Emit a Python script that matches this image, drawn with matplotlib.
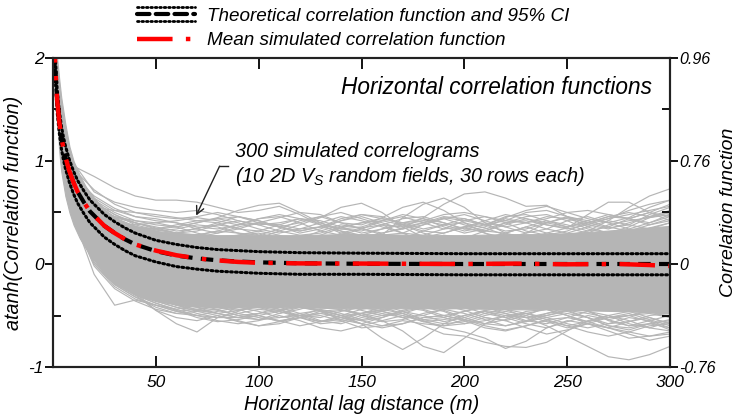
import numpy as np
import matplotlib
matplotlib.use("Agg")
import matplotlib.pyplot as plt
from matplotlib.lines import Line2D
from matplotlib.legend_handler import HandlerBase

plt.rcParams['font.family'] = ['Liberation Sans', 'DejaVu Sans']
plt.rcParams['font.style'] = 'italic'
plt.rcParams['mathtext.fontset'] = 'custom'
plt.rcParams['mathtext.it'] = 'Liberation Sans:italic'
plt.rcParams['mathtext.rm'] = 'Liberation Sans:italic'

# ---------------- data ----------------
x_core = [0.5, 1, 2, 3, 4, 6, 8, 10, 13, 16, 20, 25, 30, 40, 50, 60, 70, 80,
          100, 120, 140, 160, 180, 200, 220, 240, 260, 280, 300]
core_hi = [2.3, 2.2, 2.0, 1.8, 1.62, 1.36, 1.14, 1.0, 0.86, 0.75, 0.64, 0.53, 0.45,
           0.37, 0.32, 0.30, 0.29, 0.28, 0.28, 0.28, 0.29, 0.29, 0.28, 0.28, 0.29,
           0.29, 0.31, 0.34, 0.37]
core_lo = [2.1, 1.8, 1.45, 1.1, 0.9, 0.66, 0.5, 0.38, 0.25, 0.15, 0.04, -0.09, -0.19,
           -0.30, -0.36, -0.39, -0.41, -0.42, -0.42, -0.42, -0.43, -0.43, -0.43, -0.43,
           -0.44, -0.44, -0.45, -0.46, -0.48]

x_sim = [10, 20, 30, 40, 50, 60, 70, 80, 90, 100, 110, 120, 130, 140, 150, 160, 170,
         180, 190, 200, 210, 220, 230, 240, 250, 260, 270, 280, 290, 300]
sim_u1 = [0.95, 0.85, 0.74, 0.66, 0.62, 0.62, 0.60, 0.55, 0.50, 0.52, 0.56, 0.48, 0.38, 0.30, 0.28,
          0.22, 0.18, 0.22, 0.28, 0.25, 0.18, 0.15, 0.20, 0.25, 0.22, 0.18, 0.20, 0.28, 0.30, 0.25]
sim_u2 = [0.85, 0.60, 0.48, 0.40, 0.35, 0.30, 0.25, 0.20, 0.22, 0.25, 0.32, 0.38, 0.45, 0.55, 0.59,
          0.50, 0.36, 0.26, 0.30, 0.36, 0.30, 0.22, 0.15, 0.12, 0.18, 0.25, 0.20, 0.15, 0.12, 0.18]
sim_u3 = [0.80, 0.50, 0.42, 0.36, 0.32, 0.26, 0.20, 0.15, 0.10, 0.12, 0.18, 0.20, 0.15, 0.10, 0.18,
          0.28, 0.45, 0.58, 0.64, 0.55, 0.40, 0.30, 0.25, 0.30, 0.35, 0.30, 0.22, 0.20, 0.25, 0.30]
sim_u4 = [0.82, 0.55, 0.46, 0.42, 0.40, 0.36, 0.30, 0.26, 0.28, 0.32, 0.28, 0.20, 0.15, 0.20, 0.25,
          0.30, 0.35, 0.45, 0.58, 0.68, 0.70, 0.64, 0.56, 0.57, 0.46, 0.36, 0.30, 0.28, 0.35, 0.40]
sim_u5 = [0.75, 0.45, 0.38, 0.35, 0.34, 0.36, 0.40, 0.45, 0.52, 0.57, 0.59, 0.50, 0.40, 0.32, 0.25,
          0.20, 0.25, 0.32, 0.38, 0.40, 0.35, 0.28, 0.22, 0.18, 0.22, 0.30, 0.38, 0.42, 0.45, 0.48]
sim_u6 = [0.70, 0.40, 0.30, 0.25, 0.22, 0.18, 0.15, 0.20, 0.28, 0.30, 0.25, 0.18, 0.22, 0.30, 0.35,
          0.38, 0.30, 0.22, 0.18, 0.25, 0.32, 0.40, 0.42, 0.38, 0.35, 0.48, 0.60, 0.60, 0.50, 0.42]
sim_u7 = [0.65, 0.35, 0.28, 0.22, 0.20, 0.22, 0.28, 0.32, 0.30, 0.25, 0.20, 0.22, 0.28, 0.35, 0.40,
          0.42, 0.38, 0.30, 0.25, 0.22, 0.25, 0.30, 0.36, 0.30, 0.28, 0.32, 0.42, 0.55, 0.66, 0.73]
sim_u8 = [0.62, 0.30, 0.25, 0.22, 0.25, 0.30, 0.35, 0.38, 0.35, 0.28, 0.22, 0.25, 0.32, 0.38, 0.35,
          0.28, 0.30, 0.38, 0.45, 0.42, 0.38, 0.45, 0.52, 0.56, 0.50, 0.44, 0.40, 0.45, 0.55, 0.62]
sim_u9 = [0.72, 0.45, 0.40, 0.38, 0.40, 0.42, 0.45, 0.42, 0.38, 0.40, 0.45, 0.50, 0.48, 0.40, 0.38,
          0.45, 0.55, 0.60, 0.52, 0.40, 0.30, 0.25, 0.30, 0.40, 0.45, 0.40, 0.35, 0.38, 0.48, 0.55]
sim_u10 = [0.85, 0.55, 0.52, 0.50, 0.48, 0.45, 0.42, 0.44, 0.46, 0.42, 0.36, 0.32, 0.36, 0.44, 0.48,
           0.44, 0.40, 0.42, 0.48, 0.50, 0.46, 0.42, 0.40, 0.44, 0.50, 0.52, 0.48, 0.44, 0.50, 0.58]
sim_u11 = [0.98, 0.70, 0.60, 0.55, 0.52, 0.50, 0.52, 0.48, 0.42, 0.38, 0.40, 0.44, 0.42, 0.36, 0.30,
           0.34, 0.40, 0.44, 0.40, 0.34, 0.38, 0.46, 0.48, 0.42, 0.36, 0.40, 0.46, 0.50, 0.46, 0.50]
sim_f1 = [0.80, 0.62, 0.50, 0.42, 0.38, 0.36, 0.40, 0.44, 0.40, 0.34, 0.30, 0.34, 0.40, 0.46, 0.42,
          0.36, 0.30, 0.28, 0.34, 0.42, 0.46, 0.40, 0.32, 0.28, 0.32, 0.40, 0.46, 0.44, 0.38, 0.42]
sim_f2 = [0.75, 0.58, 0.46, 0.40, 0.34, 0.30, 0.28, 0.32, 0.38, 0.44, 0.46, 0.40, 0.32, 0.28, 0.34,
          0.42, 0.48, 0.44, 0.36, 0.30, 0.34, 0.40, 0.46, 0.48, 0.42, 0.34, 0.30, 0.36, 0.45, 0.50]
sim_f3 = [0.85, 0.66, 0.54, 0.46, 0.44, 0.40, 0.34, 0.30, 0.34, 0.40, 0.36, 0.30, 0.34, 0.42, 0.48,
          0.46, 0.38, 0.32, 0.30, 0.36, 0.40, 0.36, 0.30, 0.34, 0.42, 0.46, 0.40, 0.34, 0.40, 0.48]
sim_f4 = [0.70, 0.55, 0.44, 0.36, 0.32, 0.34, 0.38, 0.36, 0.30, 0.28, 0.34, 0.42, 0.46, 0.40, 0.34,
          0.30, 0.34, 0.40, 0.44, 0.38, 0.32, 0.30, 0.36, 0.42, 0.38, 0.32, 0.36, 0.44, 0.50, 0.46]
sim_f5 = [0.78, 0.60, 0.48, 0.38, 0.33, 0.30, 0.32, 0.38, 0.42, 0.38, 0.32, 0.28, 0.30, 0.36, 0.40,
          0.44, 0.40, 0.34, 0.38, 0.44, 0.38, 0.32, 0.34, 0.40, 0.46, 0.42, 0.36, 0.32, 0.38, 0.44]
sim_f6 = [0.72, 0.56, 0.42, 0.34, 0.30, 0.28, 0.26, 0.30, 0.36, 0.40, 0.38, 0.34, 0.36, 0.32, 0.28,
          0.34, 0.38, 0.42, 0.38, 0.32, 0.36, 0.44, 0.40, 0.34, 0.30, 0.36, 0.42, 0.38, 0.34, 0.40]
sim_h1 = [0.88, 0.64, 0.52, 0.46, 0.42, 0.40, 0.36, 0.34, 0.38, 0.44, 0.48, 0.44, 0.38, 0.34, 0.36,
          0.42, 0.46, 0.40, 0.34, 0.36, 0.42, 0.48, 0.44, 0.38, 0.34, 0.38, 0.44, 0.48, 0.52, 0.56]
sim_h2 = [0.76, 0.56, 0.45, 0.40, 0.36, 0.32, 0.34, 0.40, 0.46, 0.42, 0.36, 0.32, 0.36, 0.42, 0.46,
          0.40, 0.34, 0.38, 0.44, 0.48, 0.42, 0.36, 0.40, 0.46, 0.44, 0.38, 0.34, 0.40, 0.46, 0.52]
sim_h3 = [0.92, 0.72, 0.58, 0.50, 0.46, 0.44, 0.46, 0.50, 0.46, 0.40, 0.36, 0.40, 0.46, 0.50, 0.44,
          0.38, 0.36, 0.40, 0.46, 0.44, 0.38, 0.42, 0.50, 0.52, 0.46, 0.40, 0.44, 0.52, 0.58, 0.62]
sim_h4 = [0.68, 0.52, 0.42, 0.36, 0.34, 0.38, 0.42, 0.40, 0.34, 0.32, 0.38, 0.44, 0.40, 0.34, 0.32,
          0.38, 0.44, 0.46, 0.40, 0.34, 0.32, 0.38, 0.44, 0.40, 0.36, 0.42, 0.48, 0.44, 0.40, 0.46]
sim_l1 = [0.45, -0.10, -0.40, -0.35, -0.40, -0.44, -0.40, -0.36, -0.38, -0.42, -0.45, -0.40, -0.35,
          -0.38, -0.45, -0.50, -0.48, -0.42, -0.40, -0.45, -0.52, -0.55, -0.50, -0.42, -0.38, -0.45,
          -0.55, -0.60, -0.55, -0.50]
sim_l2 = [0.50, 0.05, -0.15, -0.30, -0.45, -0.58, -0.66, -0.52, -0.52, -0.54, -0.52, -0.48, -0.45,
          -0.50, -0.55, -0.52, -0.45, -0.40, -0.45, -0.52, -0.58, -0.60, -0.55, -0.48, -0.45, -0.52,
          -0.60, -0.62, -0.58, -0.55]
sim_l3 = [0.55, 0.10, -0.10, -0.22, -0.30, -0.35, -0.38, -0.42, -0.45, -0.42, -0.38, -0.40, -0.45,
          -0.50, -0.58, -0.72, -0.83, -0.72, -0.58, -0.50, -0.45, -0.48, -0.52, -0.50, -0.45, -0.48,
          -0.52, -0.50, -0.48, -0.52]
sim_l4 = [0.58, 0.15, -0.05, -0.18, -0.25, -0.30, -0.35, -0.40, -0.48, -0.52, -0.55, -0.52, -0.48,
          -0.45, -0.48, -0.55, -0.65, -0.80, -0.86, -0.72, -0.58, -0.50, -0.48, -0.52, -0.58, -0.62,
          -0.58, -0.52, -0.55, -0.62]
sim_l5 = [0.52, 0.10, -0.08, -0.20, -0.30, -0.38, -0.45, -0.48, -0.45, -0.40, -0.42, -0.48, -0.55,
          -0.58, -0.52, -0.48, -0.52, -0.60, -0.68, -0.70, -0.76, -0.80, -0.81, -0.76, -0.65, -0.55,
          -0.50, -0.55, -0.62, -0.65]
sim_l6 = [0.50, 0.05, -0.12, -0.25, -0.35, -0.40, -0.42, -0.45, -0.50, -0.48, -0.45, -0.42, -0.45,
          -0.50, -0.48, -0.45, -0.42, -0.45, -0.52, -0.58, -0.55, -0.50, -0.52, -0.60, -0.70, -0.80,
          -0.90, -0.93, -0.88, -0.80]
sim_l7 = [0.45, 0.00, -0.20, -0.32, -0.42, -0.48, -0.50, -0.55, -0.58, -0.55, -0.50, -0.55, -0.62,
          -0.65, -0.60, -0.55, -0.50, -0.55, -0.62, -0.66, -0.72, -0.82, -0.75, -0.62, -0.55, -0.58,
          -0.65, -0.72, -0.70, -0.66]
sim_l8 = [0.48, 0.02, -0.18, -0.30, -0.38, -0.45, -0.52, -0.56, -0.54, -0.50, -0.55, -0.60, -0.56,
          -0.52, -0.55, -0.60, -0.58, -0.52, -0.50, -0.55, -0.62, -0.65, -0.60, -0.55, -0.60, -0.66,
          -0.70, -0.66, -0.60, -0.58]
sim_l9 = [0.52, 0.08, -0.12, -0.28, -0.45, -0.52, -0.55, -0.50, -0.55, -0.60, -0.58, -0.52, -0.50,
          -0.55, -0.62, -0.60, -0.55, -0.58, -0.60, -0.58, -0.52, -0.55, -0.62, -0.68, -0.64, -0.58,
          -0.62, -0.68, -0.74, -0.70]
sim_g1 = [0.50, 0.10, -0.12, -0.26, -0.36, -0.42, -0.45, -0.40, -0.36, -0.42, -0.48, -0.44, -0.38,
          -0.42, -0.50, -0.46, -0.40, -0.44, -0.50, -0.46, -0.40, -0.44, -0.52, -0.48, -0.42, -0.46,
          -0.54, -0.50, -0.46, -0.52]
sim_g2 = [0.45, 0.05, -0.18, -0.30, -0.38, -0.44, -0.50, -0.52, -0.46, -0.40, -0.44, -0.52, -0.56,
          -0.50, -0.44, -0.40, -0.46, -0.54, -0.52, -0.46, -0.42, -0.48, -0.55, -0.58, -0.52, -0.46,
          -0.50, -0.58, -0.62, -0.56]
sim_g3 = [0.55, 0.12, -0.08, -0.20, -0.30, -0.36, -0.40, -0.44, -0.50, -0.54, -0.48, -0.42, -0.46,
          -0.54, -0.58, -0.52, -0.46, -0.42, -0.46, -0.54, -0.58, -0.54, -0.46, -0.44, -0.50, -0.56,
          -0.52, -0.48, -0.54, -0.60]
sim_g4 = [0.48, 0.08, -0.15, -0.28, -0.34, -0.38, -0.42, -0.48, -0.52, -0.48, -0.42, -0.40, -0.46,
          -0.52, -0.48, -0.42, -0.48, -0.56, -0.60, -0.54, -0.48, -0.44, -0.48, -0.54, -0.60, -0.56,
          -0.50, -0.46, -0.52, -0.58]
sim_g5 = [0.42, 0.00, -0.22, -0.34, -0.40, -0.46, -0.44, -0.40, -0.44, -0.50, -0.56, -0.52, -0.46,
          -0.44, -0.50, -0.56, -0.54, -0.48, -0.44, -0.48, -0.54, -0.60, -0.56, -0.50, -0.46, -0.52,
          -0.60, -0.64, -0.58, -0.54]
sim_g6 = [0.52, 0.06, -0.14, -0.24, -0.32, -0.40, -0.46, -0.44, -0.40, -0.38, -0.44, -0.50, -0.52,
          -0.46, -0.42, -0.46, -0.52, -0.50, -0.44, -0.42, -0.48, -0.52, -0.48, -0.44, -0.50, -0.58,
          -0.62, -0.56, -0.50, -0.48]
sim_k1 = [0.46, 0.02, -0.20, -0.32, -0.40, -0.46, -0.50, -0.46, -0.42, -0.46, -0.52, -0.50, -0.44,
          -0.48, -0.54, -0.50, -0.46, -0.50, -0.56, -0.52, -0.46, -0.50, -0.56, -0.52, -0.48, -0.52,
          -0.58, -0.56, -0.52, -0.58]
sim_k2 = [0.54, 0.12, -0.10, -0.24, -0.34, -0.40, -0.44, -0.48, -0.52, -0.50, -0.46, -0.50, -0.56,
          -0.54, -0.48, -0.44, -0.48, -0.54, -0.58, -0.56, -0.50, -0.46, -0.50, -0.56, -0.62, -0.58,
          -0.52, -0.50, -0.56, -0.64]
sim_k3 = [0.44, -0.02, -0.24, -0.36, -0.44, -0.48, -0.46, -0.50, -0.56, -0.60, -0.56, -0.50, -0.48,
          -0.52, -0.58, -0.62, -0.58, -0.52, -0.50, -0.54, -0.60, -0.64, -0.60, -0.54, -0.52, -0.56,
          -0.62, -0.66, -0.70, -0.68]
sim_k4 = [0.50, 0.08, -0.16, -0.28, -0.36, -0.42, -0.48, -0.52, -0.48, -0.44, -0.46, -0.52, -0.58,
          -0.56, -0.50, -0.46, -0.50, -0.56, -0.54, -0.50, -0.46, -0.52, -0.58, -0.62, -0.56, -0.50,
          -0.54, -0.60, -0.58, -0.62]
sim_curves = [sim_u1, sim_u2, sim_u3, sim_u4, sim_u5, sim_u6, sim_u7, sim_u8, sim_u9, sim_u10,
              sim_u11, sim_f1, sim_f2, sim_f3, sim_f4, sim_f5, sim_f6,
              sim_h1, sim_h2, sim_h3, sim_h4,
              sim_l1, sim_l2, sim_l3, sim_l4, sim_l5, sim_l6, sim_l7, sim_l8, sim_l9,
              sim_g1, sim_g2, sim_g3, sim_g4, sim_g5, sim_g6,
              sim_k1, sim_k2, sim_k3, sim_k4]

x_theo = [0.5, 1, 2, 3, 4, 5, 6, 8, 10, 12, 15, 18, 20, 25, 30, 35, 40, 50, 60, 70, 80,
          90, 100, 120, 150, 200, 250, 300]
theo = [2.28, 1.94, 1.59, 1.39, 1.24, 1.13, 1.04, 0.90, 0.79, 0.70, 0.60, 0.51, 0.47, 0.37,
        0.30, 0.24, 0.19, 0.125, 0.082, 0.054, 0.036, 0.024, 0.016, 0.007, 0.002, 0.0, 0.0, 0.0]
ci_hi = [2.39, 2.05, 1.70, 1.50, 1.35, 1.24, 1.15, 1.01, 0.90, 0.81, 0.71, 0.62, 0.58, 0.48,
         0.41, 0.35, 0.30, 0.23, 0.19, 0.16, 0.14, 0.13, 0.12, 0.11, 0.105, 0.10, 0.10, 0.10]
ci_lo = [2.17, 1.83, 1.48, 1.28, 1.13, 1.02, 0.93, 0.79, 0.68, 0.59, 0.49, 0.40, 0.36, 0.26,
         0.19, 0.13, 0.08, 0.02, -0.025, -0.05, -0.07, -0.08, -0.09, -0.10, -0.10, -0.105, -0.105, -0.105]

x_mean = [0.5, 1, 2, 3, 4, 5, 6, 8, 10, 12, 15, 18, 20, 25, 30, 35, 40, 50, 60, 70, 80,
          90, 100, 120, 150, 175, 200, 225, 250, 275, 290, 300]
mean_sim = [2.3, 1.96, 1.6, 1.39, 1.24, 1.13, 1.04, 0.90, 0.79, 0.70, 0.60, 0.51, 0.47, 0.37,
            0.30, 0.24, 0.19, 0.13, 0.085, 0.055, 0.035, 0.02, 0.012, 0.006, 0.004, 0.002,
            0.0, 0.004, -0.003, 0.0, -0.01, -0.02]

xticks = [50, 100, 150, 200, 250, 300]
yticks = [-1, 0, 1, 2]
right_labels = ['-0.76', '0', '0.76', '0.96']

GRAY = '#b5b5b5'

# ---------------- figure ----------------
fig = plt.figure(figsize=(7.39, 4.19), dpi=100)
ax = fig.add_axes([0.0717, 0.1241, 0.835, 0.7375])

ax.fill_between(x_core, core_lo, core_hi, color=GRAY, lw=0.8, zorder=1)
for c in sim_curves:
    ax.plot(x_sim, c, color=GRAY, lw=0.85, zorder=1, solid_joinstyle='round')

ax.plot(x_theo, ci_hi, color='black', lw=2.2, ls=(0, (0.6, 1.0)), dash_capstyle='round', zorder=3)
ax.plot(x_theo, ci_lo, color='black', lw=2.2, ls=(0, (0.6, 1.0)), dash_capstyle='round', zorder=3)
ax.plot(x_theo, theo, color='black', lw=3, ls=(0, (3, 2)), zorder=3)
ax.plot(x_mean, mean_sim, color='#ff0000', lw=3.2, ls=(0, (8, 3, 1, 3)), zorder=4)

ax.set_xlim(0, 300)
ax.set_ylim(-1, 2)
ax.set_xticks(xticks)
ax.set_xticklabels([str(v) for v in xticks], fontsize=12.5)
ax.set_yticks(yticks)
ax.set_yticklabels(['-1', '0', '1', '2'], fontsize=12.5)
ax.set_yticks([-0.5, 0.5, 1.5], minor=True)
ax.tick_params(axis='x', which='major', direction='in', top=True, length=8, width=1.3, pad=6)
ax.tick_params(axis='y', which='major', direction='out', length=6, width=1.3, pad=0.5)
ax.tick_params(axis='y', which='minor', direction='in', length=6, width=1.3)
for s in ax.spines.values():
    s.set_linewidth(1.5)
    s.set_color('#222222')

ax2 = ax.twinx()
ax2.set_ylim(-1, 2)
ax2.set_yticks(yticks)
ax2.set_yticklabels(right_labels, fontsize=11.5)
ax2.set_yticks([-0.5, 0.5, 1.5], minor=True)
ax2.tick_params(axis='y', which='major', direction='out', length=6, width=1.3, pad=0.5)
ax2.tick_params(axis='y', which='minor', direction='in', length=6, width=1.3)
for s in ax2.spines.values():
    s.set_linewidth(1.5)
    s.set_color('#222222')

ax.set_xlabel('Horizontal lag distance (m)', fontsize=14.2, labelpad=3)
ax.set_ylabel('atanh(Correlation function)', fontsize=14.2, labelpad=4)
ax2.set_ylabel('Correlation function', fontsize=14, labelpad=3)

ax.text(0.971, 0.903, 'Horizontal correlation functions', transform=ax.transAxes,
        ha='right', va='center', fontsize=16.3)
ax.text(0.295, 0.697, '300 simulated correlograms', transform=ax.transAxes,
        ha='left', va='center', fontsize=14.3)
ax.text(0.295, 0.615, '(10 2D V$_S$ random fields, 30 rows each)', transform=ax.transAxes,
        ha='left', va='center', fontsize=14.3)
ax.plot([85, 81], [0.95, 0.95], color='#222222', lw=1.0, zorder=6)
ax.annotate('', xy=(69.6, 0.47), xytext=(81, 0.95),
            arrowprops=dict(arrowstyle='->', color='#222222', lw=1.0, mutation_scale=14,
                            shrinkA=0, shrinkB=0),
            zorder=6)


class TheoHandler(HandlerBase):
    def create_artists(self, legend, orig_handle, xdescent, ydescent, width, height,
                       fontsize, trans):
        y0 = height / 2 - ydescent
        arts = []
        for dy, ls, lw in [(5, (0, (0.6, 1.0)), 2.0), (0, (0, (3, 1.5)), 3), (-5, (0, (0.6, 1.0)), 2.0)]:
            l = Line2D([-xdescent, -xdescent + width], [y0 + dy, y0 + dy], color='black',
                       lw=lw, ls=ls, dash_capstyle='round', transform=trans)
            arts.append(l)
        return arts


h_theo = Line2D([], [], color='black')
h_mean = Line2D([], [], color='#ff0000', lw=3.2, ls=(0, (8, 3, 1, 3)))
leg = fig.legend([h_theo, h_mean],
                 ['Theoretical correlation function and 95% CI',
                  'Mean simulated correlation function'],
                 handler_map={h_theo: TheoHandler()},
                 loc='upper left', bbox_to_anchor=(0.163, 1.022), frameon=False,
                 fontsize=13.6, handlelength=3.07, handletextpad=0.63, labelspacing=0.37)

fig.savefig('out.png', dpi=100)
